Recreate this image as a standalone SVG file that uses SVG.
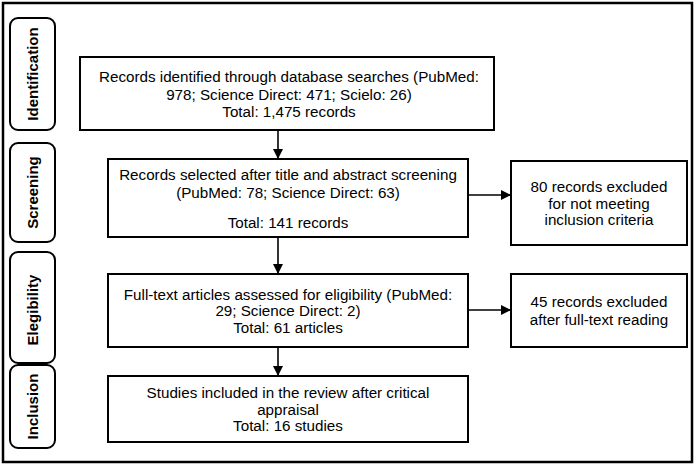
<svg xmlns="http://www.w3.org/2000/svg" width="697" height="466" viewBox="0 0 697 466">
<style>
.box{fill:#fff;stroke:#000;stroke-width:2}
.side{fill:#fff;stroke:#000;stroke-width:2}
.t{font-family:"Liberation Sans",Arial,sans-serif;font-size:15.2px;fill:#000;text-anchor:middle}
.s{font-family:"Liberation Sans",Arial,sans-serif;font-size:15px;font-weight:bold;fill:#000;text-anchor:middle}
.c{stroke:#000;stroke-width:1.6;fill:none}
</style>
<defs>
<marker id="ah" markerWidth="10" markerHeight="10" refX="9" refY="5" orient="auto" markerUnits="userSpaceOnUse">
<path d="M0,0 L10,5 L0,10 z" fill="#000"/>
</marker>
</defs>
<rect x="0" y="0" width="697" height="466" fill="#fff"/>
<rect x="3" y="3" width="689" height="459" fill="none" stroke="#000" stroke-width="2.5"/>
<g id="side-identification"><rect class="side" x="10" y="18" width="45" height="112" rx="8"/><text class="s" transform="translate(38,74) rotate(-90)">Identification</text></g>
<g id="side-screening"><rect class="side" x="10" y="143" width="45" height="99" rx="8"/><text class="s" transform="translate(38,192.5) rotate(-90)">Screening</text></g>
<g id="side-eligibility"><rect class="side" x="10" y="252" width="45" height="111" rx="8"/><text class="s" transform="translate(38,310) rotate(-90)">Elegibility</text></g>
<g id="side-inclusion"><rect class="side" x="10" y="365" width="45" height="83" rx="8"/><text class="s" transform="translate(38,406.5) rotate(-90)">Inclusion</text></g>
<g id="connectors">
<line class="c" x1="278" y1="130" x2="278" y2="158" marker-end="url(#ah)"/>
<line class="c" x1="278" y1="237" x2="278" y2="273" marker-end="url(#ah)"/>
<line class="c" x1="278" y1="347" x2="278" y2="375" marker-end="url(#ah)"/>
<line class="c" x1="468" y1="195" x2="510" y2="195" marker-end="url(#ah)"/>
<line class="c" x1="468" y1="310" x2="510" y2="310" marker-end="url(#ah)"/>
</g>
<g id="n1"><rect class="box" x="80" y="57" width="414" height="73"/>
<text class="t" x="289" y="82">Records identified through database searches (PubMed:</text>
<text class="t" x="289" y="100">978; Science Direct: 471; Scielo: 26)</text>
<text class="t" x="289" y="117">Total: 1,475 records</text></g>
<g id="n2"><rect class="box" x="108" y="159" width="360" height="78"/>
<text class="t" x="288" y="180">Records selected after title and abstract screening</text>
<text class="t" x="288" y="198">(PubMed: 78; Science Direct: 63)</text>
<text class="t" x="288" y="228">Total: 141 records</text></g>
<g id="n3"><rect class="box" x="511" y="161" width="176" height="84"/>
<text class="t" x="599" y="192">80 records excluded</text>
<text class="t" x="599" y="209">for not meeting</text>
<text class="t" x="599" y="225">inclusion criteria</text></g>
<g id="n4"><rect class="box" x="108" y="274" width="360" height="73"/>
<text class="t" x="288" y="300">Full-text articles assessed for eligibility (PubMed:</text>
<text class="t" x="288" y="316">29; Science Direct: 2)</text>
<text class="t" x="288" y="333">Total: 61 articles</text></g>
<g id="n5"><rect class="box" x="511" y="274" width="176" height="73"/>
<text class="t" x="599" y="307">45 records excluded</text>
<text class="t" x="599" y="325">after full-text reading</text></g>
<g id="n6"><rect class="box" x="108" y="376" width="360" height="66"/>
<text class="t" x="288" y="398">Studies included in the review after critical</text>
<text class="t" x="288" y="415">appraisal</text>
<text class="t" x="288" y="431">Total: 16 studies</text></g>
</svg>
